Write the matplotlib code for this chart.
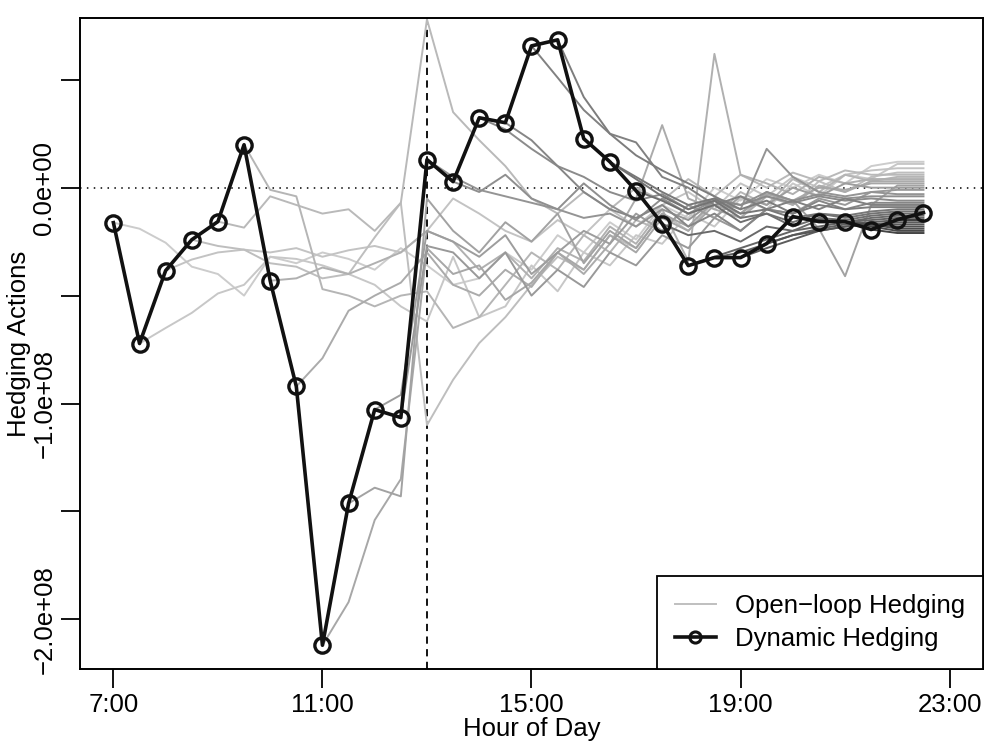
import numpy as np
import matplotlib
matplotlib.use("Agg")
import matplotlib.pyplot as plt

plt.rcParams['font.family'] = ['Liberation Sans', 'DejaVu Sans']

# half-hourly decision times, 7:00 .. 22:30
heures = [7 + 0.5 * k for k in range(32)]

# dynamic hedging (units of 1e8)
dynamique = [-0.162, -0.722, -0.384, -0.241, -0.157, 0.199, -0.431, -0.921,
             -2.12, -1.463, -1.028, -1.065, 0.130, 0.028, 0.324, 0.301,
             0.657, 0.685, 0.227, 0.120, -0.014, -0.167, -0.361, -0.324,
             -0.324, -0.259, -0.134, -0.157, -0.157, -0.194, -0.148, -0.116]

# open-loop plans, one per start time, each running to 22:30 (units of 1e8)
boucle_ouverte = [
    [-0.162, -0.19, -0.255, -0.366, -0.40, -0.50, -0.32, -0.35, -0.30, -0.33, -0.38, -0.28, -0.36, -0.45, -0.42, -0.30,
     -0.38, -0.22, -0.30, -0.16, -0.24, -0.08, -0.14, 0.00, -0.06, 0.04, 0.00, 0.06, 0.02, 0.10, 0.12, 0.12],
    [-0.722, -0.65, -0.58, -0.49, -0.45, -0.32, -0.33, -0.36, -0.40, -0.45, -0.55, -0.62, -0.32, -0.60, -0.55, -0.36,
     -0.48, -0.30, -0.36, -0.22, -0.26, -0.12, -0.18, -0.05, -0.10, 0.02, -0.04, 0.06, 0.04, 0.11, 0.11],
    [-0.384, -0.333, -0.30, -0.287, -0.30, -0.28, -0.32, -0.29, -0.27, -0.30, -0.20, -0.05, -0.12, -0.20, -0.25,
     -0.15, -0.22, -0.10, -0.18, -0.08, -0.02, -0.10, 0.02, -0.04, 0.05, 0.00, 0.06, 0.08, 0.09, 0.09],
    [-0.241, -0.27, -0.287, -0.35, -0.366, -0.42, -0.40, -0.23, -0.07, -1.10, -0.89, -0.72, -0.60, -0.45, -0.32,
     -0.38, -0.22, -0.28, -0.12, -0.20, -0.06, -0.14, -0.02, -0.08, 0.03, -0.02, 0.05, 0.07, 0.07],
    [-0.157, -0.185, -0.04, -0.08, -0.12, -0.10, -0.20, -0.07, 0.78, 0.35, 0.22, 0.10, -0.05, -0.12, -0.02,
     -0.10, 0.00, -0.06, 0.04, -0.04, 0.06, 0.00, 0.07, 0.03, 0.08, 0.06, 0.06, 0.06],
    [0.199, -0.01, -0.04, -0.47, -0.50, -0.55, -0.50, -0.48, -0.65, -0.60, -0.45, -0.30, -0.38, -0.22, -0.30,
     -0.15, -0.20, -0.08, -0.14, -0.02, -0.08, 0.04, -0.02, 0.06, 0.03, 0.05, 0.05],
    [-0.431, -0.42, -0.37, -0.40, -0.35, -0.30, -0.20, -0.25, -0.38, -0.30, -0.42, -0.28, -0.34, -0.18, -0.26,
     -0.10, -0.34, 0.62, 0.06, 0.02, -0.03, 0.05, 0.02, 0.04, 0.04, 0.04],
    [-0.921, -0.79, -0.57, -0.50, -0.44, -0.30, -0.45, -0.50, -0.38, -0.46, -0.30, -0.40, -0.26, -0.05, 0.29,
     -0.05, -0.10, -0.14, -0.04, -0.08, 0.01, -0.02, 0.03, 0.03, 0.03],
    [-2.12, -1.92, -1.54, -1.35, -0.28, -0.40, -0.36, -0.52, -0.44, -0.30, -0.38, -0.22, -0.30, -0.14, -0.20,
     -0.08, -0.12, -0.03, -0.06, 0.00, -0.01, 0.02, 0.02, 0.02],
    [-1.463, -1.39, -1.43, -0.05, -0.20, -0.30, -0.16, -0.25, -0.12, -0.35, -0.20, -0.28, -0.12, -0.18, -0.06,
     -0.12, -0.02, -0.06, -0.19, -0.41, -0.08, 0.01, 0.01],
    [-1.028, -0.96, -0.20, -0.25, -0.32, -0.22, -0.40, -0.30, -0.20, -0.26, -0.12, -0.20, -0.08, -0.14, -0.04,
     -0.08, 0.00, -0.04, 0.02, 0.00, 0.00, 0.00],
    [-1.065, -0.27, -0.30, -0.42, -0.30, -0.50, -0.38, -0.46, -0.30, -0.36, -0.22, -0.28, -0.14, -0.20, -0.10,
     -0.12, -0.05, -0.08, -0.02, -0.01, -0.01],
    [0.13, 0.05, -0.01, -0.04, -0.07, -0.10, -0.14, -0.12, -0.18, -0.10, -0.15, -0.06, -0.10, 0.18, 0.05,
     -0.02, -0.04, -0.02, -0.03, -0.03],
    [0.028, -0.02, 0.06, -0.05, -0.10, 0.02, -0.08, -0.15, -0.05, -0.12, -0.06, -0.08, -0.02, -0.06, -0.03,
     -0.05, -0.04, -0.04, -0.04],
    [0.324, 0.27, 0.18, 0.10, 0.05, -0.02, -0.06, -0.03, -0.10, -0.05, -0.08, -0.04, -0.07, -0.04, -0.06,
     -0.05, -0.06, -0.06],
    [0.301, 0.22, 0.10, -0.02, -0.10, -0.14, -0.08, -0.18, -0.12, -0.20, -0.10, -0.12, -0.06, -0.10, -0.07,
     -0.07, -0.07],
    [0.657, 0.51, 0.36, 0.25, 0.21, 0.05, 0.00, -0.08, -0.04, -0.10, -0.06, -0.10, -0.05, -0.08, -0.08, -0.08],
    [0.685, 0.42, 0.25, 0.15, 0.08, 0.02, -0.04, -0.10, -0.06, -0.12, -0.08, -0.10, -0.09, -0.09, -0.09],
    [0.227, 0.12, 0.05, -0.02, -0.08, -0.05, -0.12, -0.10, -0.14, -0.12, -0.13, -0.11, -0.10, -0.10],
    [0.12, 0.04, -0.04, -0.10, -0.06, -0.14, -0.12, -0.16, -0.12, -0.14, -0.12, -0.11, -0.11],
    [-0.014, -0.06, -0.12, -0.08, -0.16, -0.12, -0.18, -0.14, -0.15, -0.13, -0.12, -0.12],
    [-0.167, -0.22, -0.20, -0.25, -0.18, -0.20, -0.15, -0.16, -0.14, -0.13, -0.13],
    [-0.361, -0.32, -0.28, -0.24, -0.20, -0.18, -0.16, -0.15, -0.14, -0.14],
    [-0.324, -0.30, -0.26, -0.22, -0.19, -0.17, -0.16, -0.15, -0.15],
    [-0.324, -0.28, -0.24, -0.20, -0.18, -0.17, -0.16, -0.16],
    [-0.259, -0.22, -0.20, -0.18, -0.17, -0.17, -0.17],
    [-0.134, -0.15, -0.16, -0.17, -0.18, -0.18],
    [-0.157, -0.16, -0.17, -0.19, -0.19],
    [-0.157, -0.18, -0.20, -0.20],
    [-0.194, -0.21, -0.21],
    [-0.148, -0.148],
]

ticks_x = [7, 11, 15, 19, 23]
labels_x = ['7:00', '11:00', '15:00', '19:00', '23:00']
ticks_y = [0.5e8, 0.0, -0.5e8, -1.0e8, -1.5e8, -2.0e8]
labels_y = ['', '0.0e+00', '', '\u22121.0e+08', '', '\u22122.0e+08']

taille = 18.5

fig = plt.figure(figsize=(9.87, 7.43), dpi=100)
ax = fig.add_axes([0.081, 0.0996, 0.915, 0.8764])

n = len(boucle_ouverte)
for k, plan in enumerate(boucle_ouverte):
    debut = len(heures) - len(plan)
    gris = 0.80 - 0.55 * k / (n - 1)
    ax.plot(heures[debut:], np.array(plan) * 1e8, color=str(gris), lw=1.4, zorder=2)

ax.plot(heures, np.array(dynamique) * 1e8, color='#111111', lw=2.6, marker='o', ms=11,
        mfc='none', mew=2.4, zorder=3)

ax.axhline(0, color='black', ls=(0, (1, 3.5)), lw=1.1, zorder=1)
ax.axvline(13, color='black', ls=(0, (4, 3)), lw=1.3, zorder=1)

ax.set_xlim(6.36, 23.64)
ax.set_ylim(-2.23e8, 0.787e8)
ax.set_xticks(ticks_x)
ax.set_xticklabels(labels_x)
ax.set_yticks(ticks_y)
ax.set_yticklabels(labels_y, rotation=90, va='center')
ax.tick_params(direction='out', length=14, width=1.3, labelsize=taille, pad=3)
for s in ax.spines.values():
    s.set_linewidth(1.4)

ax.set_xlabel('Hour of Day', fontsize=taille, labelpad=0)
ax.set_ylabel('Hedging Actions', fontsize=taille, labelpad=1)

l1, = ax.plot([], [], color='0.75', lw=1.4)
l2, = ax.plot([], [], color='#111111', lw=2.6, marker='o', ms=8, mfc='none', mew=2.2)
leg = ax.legend([l1, l2], ['Open\u2212loop Hedging', 'Dynamic Hedging'], loc='lower right',
                borderaxespad=0, fancybox=False, framealpha=1, edgecolor='black', fontsize=taille,
                handlelength=1.6, borderpad=0.7, labelspacing=0.35, handletextpad=0.75)
leg.get_frame().set_linewidth(1.3)

fig.savefig('out.png', dpi=100)
